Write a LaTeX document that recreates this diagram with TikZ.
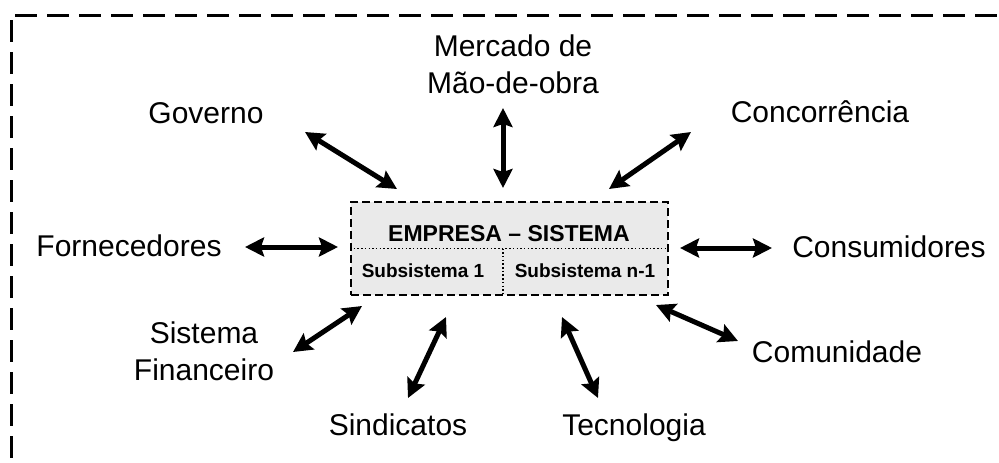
\documentclass[tikz,border=0pt]{standalone}
\usepackage{fontspec}
\setmainfont{Liberation Sans}
\usetikzlibrary{positioning,arrows.meta,calc}
\definecolor{boxgray}{RGB}{234,234,234}
\tikzset{%
	lbl/.style    = {font=\fontsize{30}{37}\selectfont, inner sep=0pt, align=center},
	sub/.style    = {font=\bfseries\fontsize{19}{22}\selectfont, inner sep=0pt, anchor=base},
	dual/.style   = {<->, line width=5pt},
	divider/.style = {line width=1.5pt, dash pattern=on 1.5pt off 2.2pt}
}

\begin{document}
\begin{tikzpicture}[x=1pt, y=-1pt,
          >={Stealth[length=19pt,width=19pt,inset=3pt]}]
        \useasboundingbox (0,0) rectangle (999,463);
        % outer frame (only top and left edges visible)
        \draw[line width=3pt, dash pattern=on 22pt off 10pt] (15,15) -- (1020,15);
        \draw[line width=3pt, dash pattern=on 22pt off 10pt] (11,20) -- (11,480);

        % company block
        \node[draw, fill=boxgray, line width=2pt, dash pattern=on 8pt off 4pt,
              minimum width=317pt, minimum height=93pt, inner sep=0pt] (emp) at (509.5,248.5) {};
        \coordinate (split) at (503,295);
        \draw[divider] (emp.west) -- (emp.east);
        \draw[divider] (emp.center -| split) -- (split);
        \draw
            node at (509,241)[sub, font=\bfseries\fontsize{23}{26}\selectfont, name=titulo]{EMPRESA – SISTEMA}
            node at (423,277)[sub, name=sub1]{Subsistema 1}
            node at (585,277)[sub, name=subn]{Subsistema n-1};

        % environment
        \draw
            node at (206,123)[lbl, anchor=base, name=gov]{Governo}
            node at (513,64)[lbl, name=merc]{Mercado de\\Mão-de-obra}
            node at (820,122)[lbl, anchor=base, name=conc]{Concorrência}
            node at (129,256)[lbl, anchor=base, name=forn]{Fornecedores}
            node at (889,257)[lbl, anchor=base, name=cons]{Consumidores}
            node at (204,351)[lbl, name=sfin]{Sistema\\Financeiro}
            node at (398,435)[lbl, anchor=base, name=sind]{Sindicatos}
            node at (634,435)[lbl, anchor=base, name=tec]{Tecnologia}
            node at (837,362)[lbl, anchor=base, name=com]{Comunidade};

        \coordinate (gov-o) at (305,132);  \coordinate (gov-i) at (397,189);
        \coordinate (merc-o) at (503,108); \coordinate (merc-i) at (503,188);
        \coordinate (conc-o) at (691,132); \coordinate (conc-i) at (609,189);
        \coordinate (forn-o) at (245,247); \coordinate (forn-i) at (338,247);
        \coordinate (cons-o) at (772,248); \coordinate (cons-i) at (680,248);
        \coordinate (sfin-o) at (293,352); \coordinate (sfin-i) at (362,306);
        \coordinate (sind-o) at (408,398); \coordinate (sind-i) at (446,317);
        \coordinate (tec-o) at (598,398);  \coordinate (tec-i) at (562,317);
        \coordinate (com-o) at (738,341);  \coordinate (com-i) at (656,305);

        \draw[dual](gov-o) -- (gov-i);
        \draw[dual](merc-o) -- (merc-i);
        \draw[dual](conc-o) -- (conc-i);
        \draw[dual](forn-o) -- (forn-i);
        \draw[dual](cons-o) -- (cons-i);
        \draw[dual](sfin-o) -- (sfin-i);
        \draw[dual](sind-o) -- (sind-i);
        \draw[dual](tec-o) -- (tec-i);
        \draw[dual](com-o) -- (com-i);
\end{tikzpicture}
\end{document}
